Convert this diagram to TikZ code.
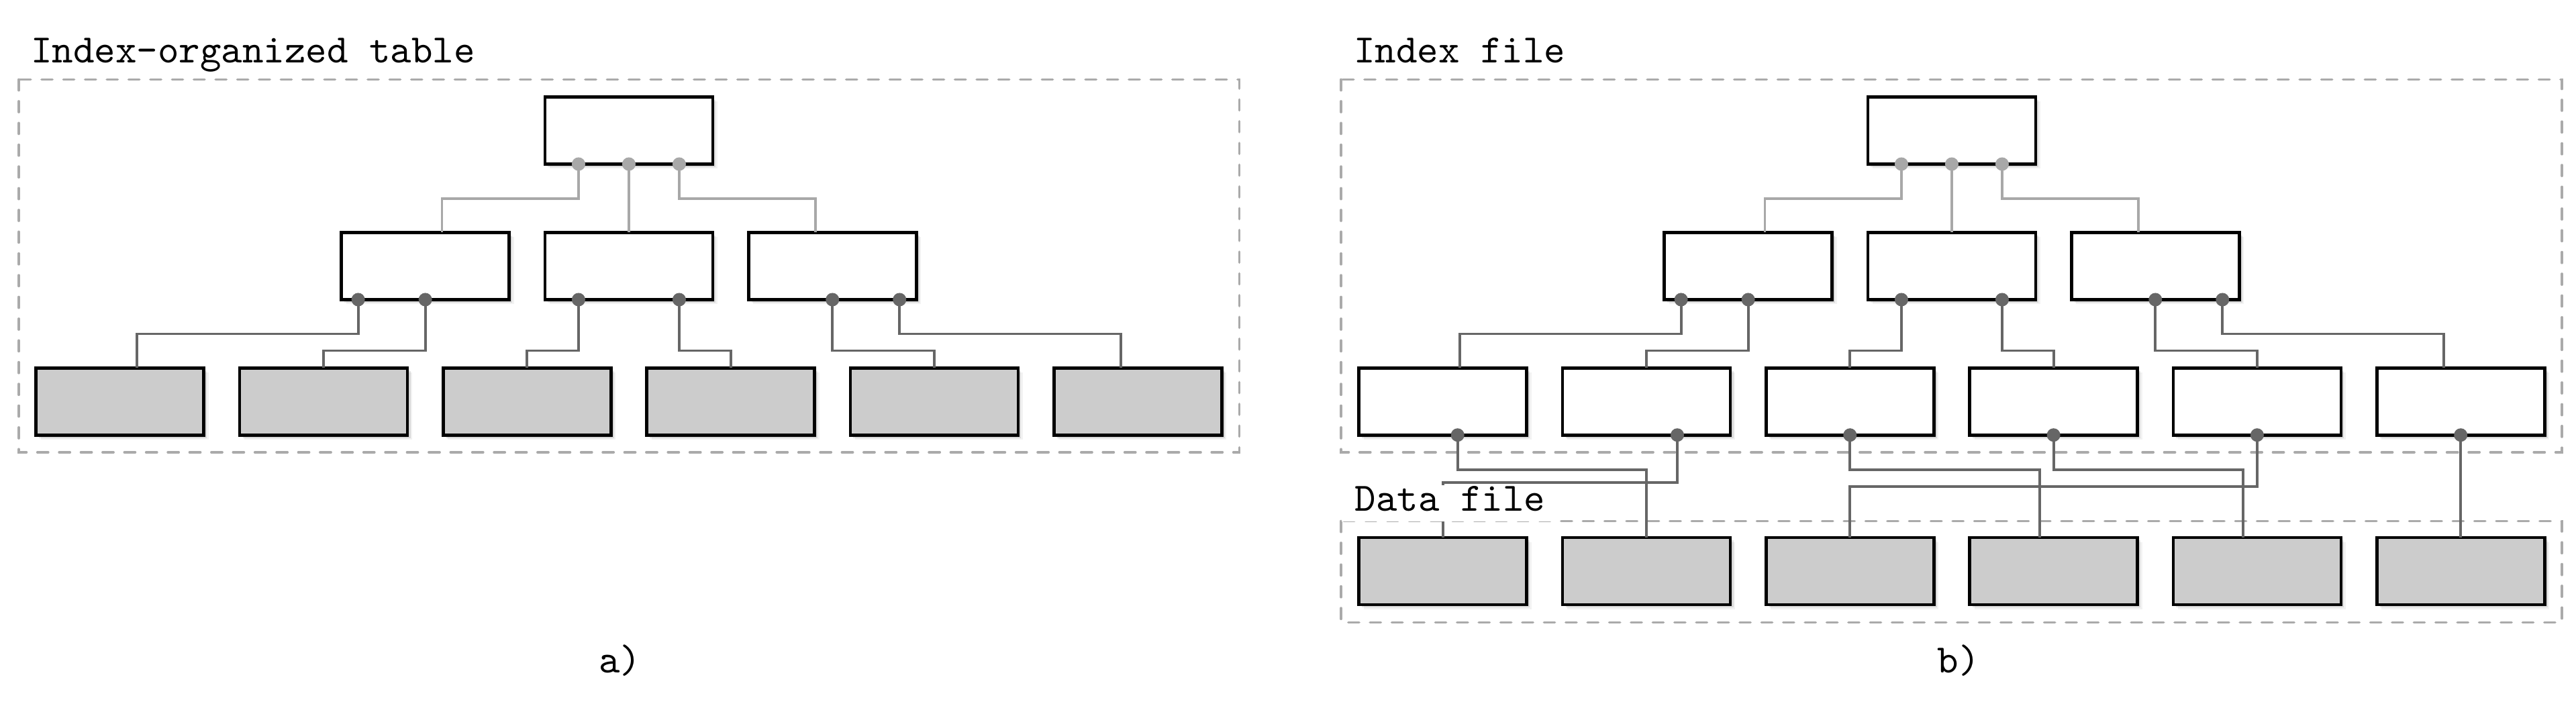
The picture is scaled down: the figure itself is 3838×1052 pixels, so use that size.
\documentclass[tikz,border=0pt]{standalone}
\usetikzlibrary{calc,shadows}
\definecolor{dashgray}{HTML}{AAAAAA}
\definecolor{lightconn}{HTML}{A8A8A8}
\definecolor{darkconn}{HTML}{666666}
\definecolor{datafill}{HTML}{CCCCCC}
\tikzset{
  softshadow/.style={
    drop shadow={shadow xshift=0.35pt, shadow yshift=-0.35pt, opacity=0.18, fill=black},
    drop shadow={shadow xshift=0.75pt, shadow yshift=-0.75pt, opacity=0.10, fill=black},
    drop shadow={shadow xshift=1.15pt, shadow yshift=-1.15pt, opacity=0.05, fill=black}},
  pagebox/.style={draw=black, line width=0.8pt, rectangle, inner sep=0pt, outer sep=0pt,
    minimum width=41.667pt, minimum height=16.667pt, softshadow},
  ibox/.style={pagebox, fill=white},
  dbox/.style={pagebox, fill=datafill},
  area/.style={draw=dashgray, line width=0.6pt, dash pattern=on 2.7pt off 2.7pt, line cap=round},
  conlight/.style={draw=lightconn, line width=0.6pt},
  condark/.style={draw=darkconn, line width=0.65pt},
  dotlight/.style={fill=lightconn},
  dotdark/.style={fill=darkconn},
  title/.style={font=\ttfamily, anchor=base west, inner sep=0pt},
  caption/.style={font=\ttfamily, anchor=base, inner sep=0pt}
}
\begin{document}
\begin{tikzpicture}[x=0.166667pt, y=-0.166667pt]
\useasboundingbox (0,0) rectangle (3838,1052);

% ---------- dashed areas ----------
\draw[area] (28,118.5) rectangle (1846.5,674);
\draw[area] (1998,118.5) rectangle (3817,674);
\draw[area] (1998,776.5) rectangle (3817,927.7);

% ---------- titles ----------
\node[title] (ta) at (45,94) {Index-organized table};
\node[title] (tb) at (2016,94) {Index file};

% ---------- left panel nodes ----------
\node[ibox] (a-r) at (936.95,194.5) {};
\node[ibox] (a-m1) at (633.65,396.5) {};
\node[ibox] (a-m2) at (936.95,396.5) {};
\node[ibox] (a-m3) at (1240.25,396.5) {};
\foreach \i in {0,...,5}
  \node[dbox] (a-l\i) at ({178.7+303.3*\i},598.25) {};

% ---------- right panel nodes ----------
\node[ibox] (b-r) at (2907.95,194.5) {};
\node[ibox] (b-m1) at (2604.65,396.5) {};
\node[ibox] (b-m2) at (2907.95,396.5) {};
\node[ibox] (b-m3) at (3211.25,396.5) {};
\foreach \i in {0,...,5}{
  \node[ibox] (b-l\i) at ({2149.7+303.3*\i},598.25) {};
  \node[dbox] (b-d\i) at ({2149.7+303.3*\i},851) {};
}

% ---------- dot coordinates ----------
\foreach \p in {a,b}{
  \coordinate (\p-r-1) at ($(\p-r.south)+(-75,0)$);
  \coordinate (\p-r-2) at (\p-r.south);
  \coordinate (\p-r-3) at ($(\p-r.south)+(75,0)$);
  \coordinate (\p-m1-1) at ($(\p-m1.south)+(-100,0)$);
  \coordinate (\p-m1-2) at (\p-m1.south);
  \coordinate (\p-m2-1) at ($(\p-m2.south)+(-75,0)$);
  \coordinate (\p-m2-2) at ($(\p-m2.south)+(75,0)$);
  \coordinate (\p-m3-1) at (\p-m3.south);
  \coordinate (\p-m3-2) at ($(\p-m3.south)+(100,0)$);
}
\coordinate (b-l0-d) at ($(b-l0.south)+(22,0)$);
\coordinate (b-l1-d) at ($(b-l1.south)+(46,0)$);
\coordinate (b-l2-d) at (b-l2.south);
\coordinate (b-l3-d) at (b-l3.south);
\coordinate (b-l4-d) at (b-l4.south);
\coordinate (b-l5-d) at (b-l5.south);

% ---------- connectors ----------
\foreach \p in {a,b}{
  \draw[conlight] (\p-r-1) -- ++(0,51.5) -| ($(\p-m1.north)+(25,0)$);
  \draw[conlight] (\p-r-2) -- (\p-m2.north);
  \draw[conlight] (\p-r-3) -- ++(0,51.5) -| ($(\p-m3.north)+(-25,0)$);
  \draw[condark] (\p-m1-1) -- ++(0,51) -| ($(\p-l0.north)+(25,0)$);
  \draw[condark] (\p-m1-2) -- ++(0,76) -| (\p-l1.north);
  \draw[condark] (\p-m2-1) -- ++(0,76) -| (\p-l2.north);
  \draw[condark] (\p-m2-2) -- ++(0,76) -| (\p-l3.north);
  \draw[condark] (\p-m3-1) -- ++(0,76) -| (\p-l4.north);
  \draw[condark] (\p-m3-2) -- ++(0,51) -| ($(\p-l5.north)+(-25,0)$);
}
\draw[condark] (b-l0-d) -- ++(0,51.5) -| (b-d1.north);
\draw[condark] (b-l1-d) -- ++(0,71) -| (b-d0.north);
\draw[condark] (b-l2-d) -- ++(0,51.5) -| ($(b-d3.north)+(-21,0)$);
\draw[condark] (b-l3-d) -- ++(0,51.5) -| ($(b-d4.north)+(-21,0)$);
\draw[condark] (b-l4-d) -- ++(0,77) -| (b-d2.north);
\draw[condark] (b-l5-d) -- (b-d5.north);

% ---------- dots ----------
\foreach \p in {a,b}{
  \foreach \d in {r-1,r-2,r-3}
    \fill[dotlight] (\p-\d) circle (1.67pt);
  \foreach \d in {m1-1,m1-2,m2-1,m2-2,m3-1,m3-2}
    \fill[dotdark] (\p-\d) circle (1.67pt);
}
\foreach \i in {0,...,5}
  \fill[dotdark] (b-l\i-d) circle (1.67pt);

% ---------- data file label ----------
\node[title, fill=white, inner xsep=3.33pt, inner ysep=0pt, text height=6.5pt, text depth=2.5pt]
  (tc) at (1997.5,761.7) {Data file};

% ---------- captions ----------
\node[caption] (ca) at (923.5,1003) {a)};
\node[caption] (cb) at (2918,1003) {b)};
\end{tikzpicture}
\end{document}
